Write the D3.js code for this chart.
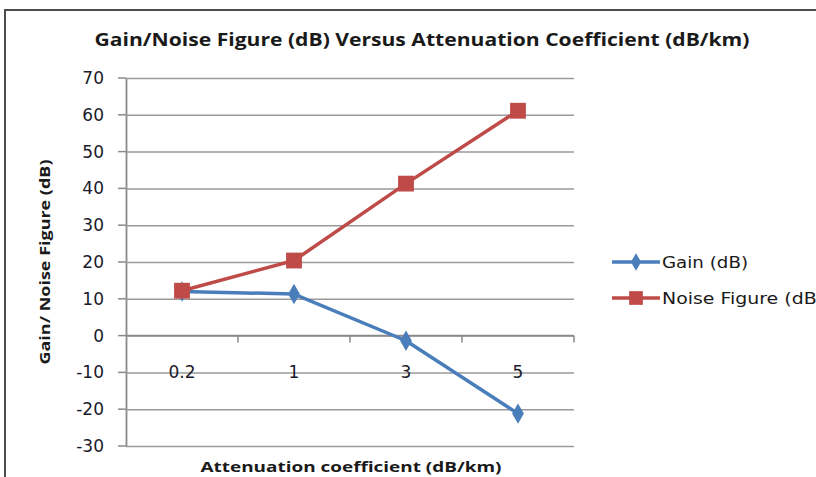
<!DOCTYPE html>
<html>
<head>
<meta charset="utf-8">
<script src="https://cdn.jsdelivr.net/npm/d3@7"></script>
<style>
  body { margin: 0; background: #fff; }
  svg { display: block; font-family: "Open Sans", "Noto Sans", sans-serif; }
  .num { font-family: "DejaVu Sans", sans-serif; }
</style>
</head>
<body>
<div id="chart"></div>
<script>
const categories = ['0.2', '1', '3', '5'];
const gainValues = [12, 11.3, -1.4, -21.2];
const noiseValues = [12.2, 20.4, 41.3, 61.1];
const yTicks = [-30, -20, -10, 0, 10, 20, 30, 40, 50, 60, 70];

const width = 816, height = 477;
const plot = { left: 126, right: 574, top: 78, bottom: 446 };

const svg = d3.select('#chart').append('svg').attr('width', width).attr('height', height);

// outer frame (runs off the right and bottom edges)
svg.append('rect')
  .attr('x', 5).attr('y', 10).attr('width', 830).attr('height', 490)
  .attr('fill', '#fff').attr('stroke', '#4d4d4d').attr('stroke-width', 2);

svg.append('text')
  .attr('x', 422).attr('y', 46)
  .attr('text-anchor', 'middle')
  .attr('font-size', 18).attr('font-weight', 'bold').attr('fill', '#1a1a1a')
  .attr('textLength', 655).attr('lengthAdjust', 'spacingAndGlyphs')
  .text('Gain/Noise Figure (dB) Versus Attenuation Coefficient (dB/km)');

const x = d3.scalePoint().domain(categories).range([plot.left, plot.right]).padding(0.5);
const band = (plot.right - plot.left) / categories.length;
const y = d3.scaleLinear().domain([-30, 70]).range([plot.bottom, plot.top]);

// gridlines + y axis
const yAxis = svg.append('g')
  .attr('transform', `translate(${plot.left},0)`)
  .call(d3.axisLeft(y).tickValues(yTicks).tickFormat(d => String(d))
    .tickSize(-(plot.right - plot.left)).tickSizeOuter(0).tickPadding(22));
yAxis.attr('font-family', null);
yAxis.select('.domain').attr('stroke', '#8a8a8a').attr('stroke-width', 1.8);
yAxis.selectAll('.tick line').attr('stroke', '#9a9a9a').attr('stroke-width', 1.5);
yAxis.selectAll('.tick text').attr('class', 'num').attr('font-size', 17).attr('fill', '#1a1a2a');
// small outer tick marks on y axis
svg.append('g').selectAll('line').data(yTicks).join('line')
  .attr('x1', plot.left - 8).attr('x2', plot.left)
  .attr('y1', d => y(d)).attr('y2', d => y(d))
  .attr('stroke', '#8a8a8a').attr('stroke-width', 1.5);

// category axis at zero
const boundaries = d3.range(categories.length + 1).map(i => plot.left + i * band);
svg.append('line')
  .attr('x1', plot.left).attr('x2', plot.right)
  .attr('y1', y(0)).attr('y2', y(0))
  .attr('stroke', '#8a8a8a').attr('stroke-width', 1.8);
svg.append('g').selectAll('line').data(boundaries.slice(1)).join('line')
  .attr('x1', d => d).attr('x2', d => d)
  .attr('y1', y(0)).attr('y2', y(0) + 7)
  .attr('stroke', '#8a8a8a').attr('stroke-width', 1.5);
svg.append('g').selectAll('text').data(categories).join('text')
  .attr('class', 'num')
  .attr('x', d => x(d)).attr('y', y(-10) + 6)
  .attr('text-anchor', 'middle')
  .attr('font-size', 17).attr('fill', '#1a1a2a')
  .text(d => d);

// axis titles
svg.append('text')
  .attr('transform', `translate(50,${(plot.top + plot.bottom) / 2}) rotate(-90)`)
  .attr('text-anchor', 'middle')
  .attr('font-size', 15).attr('font-weight', 'bold').attr('fill', '#1a1a1a')
  .attr('textLength', 205).attr('lengthAdjust', 'spacingAndGlyphs')
  .text('Gain/ Noise Figure (dB)');
svg.append('text')
  .attr('x', 351).attr('y', 472)
  .attr('text-anchor', 'middle')
  .attr('font-size', 15).attr('font-weight', 'bold').attr('fill', '#1a1a1a')
  .attr('textLength', 301).attr('lengthAdjust', 'spacingAndGlyphs')
  .text('Attenuation coefficient  (dB/km)');

const series = [
  { name: 'Gain (dB)', values: gainValues, color: '#4a7ebb', marker: d3.symbolDiamond, size: 120, textLen: 86 },
  { name: 'Noise Figure (dB)', values: noiseValues, color: '#be4b48', marker: d3.symbolSquare, size: 250, textLen: 162 }
];

const line = d3.line().x((d, i) => x(categories[i])).y(d => y(d));

series.forEach(s => {
  svg.append('path')
    .attr('d', line(s.values))
    .attr('fill', 'none').attr('stroke', s.color).attr('stroke-width', 3.5)
    .attr('stroke-linejoin', 'round');
  svg.append('g').selectAll('path').data(s.values).join('path')
    .attr('transform', (d, i) => `translate(${x(categories[i])},${y(d)})`)
    .attr('d', d3.symbol().type(s.marker).size(s.size))
    .attr('fill', s.color);
});

// legend
const legend = svg.append('g');
series.forEach((s, i) => {
  const ly = 262 + i * 36;
  const g = legend.append('g').attr('transform', `translate(612,${ly})`);
  g.append('line').attr('x1', 0).attr('x2', 48).attr('y1', 0).attr('y2', 0)
    .attr('stroke', s.color).attr('stroke-width', 3.5);
  g.append('path').attr('transform', 'translate(24,0)')
    .attr('d', d3.symbol().type(s.marker).size(s.size * 0.75)).attr('fill', s.color);
  g.append('text').attr('class', 'num').attr('x', 50).attr('y', 6)
    .attr('font-size', 15).attr('fill', '#1a1a1a')
    .attr('textLength', s.textLen).attr('lengthAdjust', 'spacingAndGlyphs')
    .text(s.name);
});
</script>
</body>
</html>
